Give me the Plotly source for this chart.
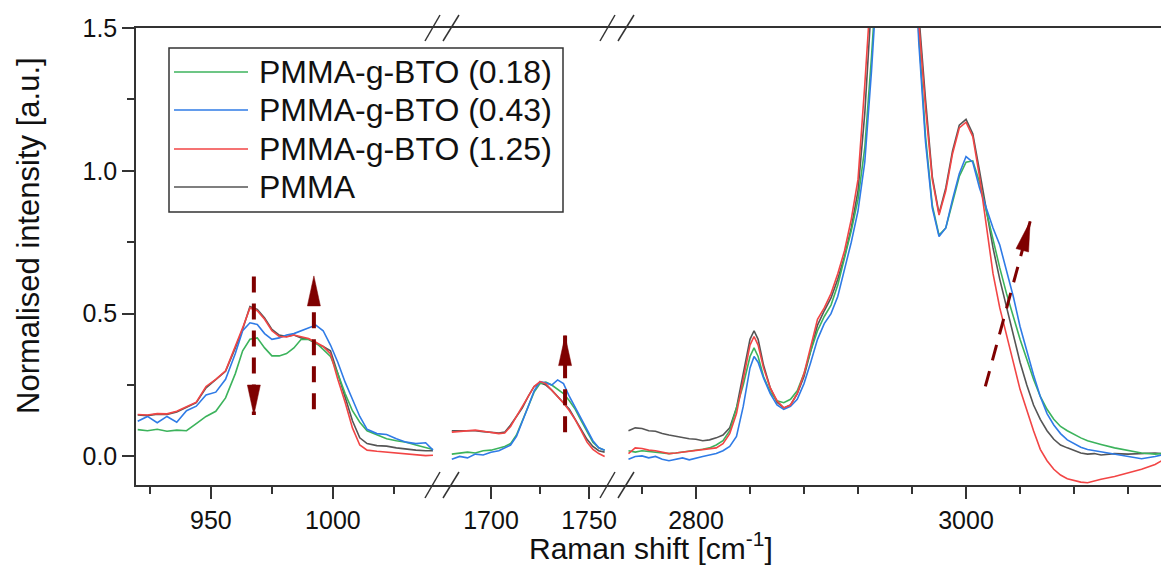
import math
import plotly.graph_objects as go

FONT = "Liberation Sans, Arial, Helvetica, sans-serif"
AXIS_COLOR = "#333333"
ARROW_COLOR = "#7f0000"

# ---------------- data ----------------
series_names = ["PMMA-g-BTO (0.18)", "PMMA-g-BTO (0.43)", "PMMA-g-BTO (1.25)", "PMMA"]
series_colors = ["#3cb35c", "#2f7be6", "#f24545", "#555555"]

# segment 1 : 920 - 1041 cm-1
x_seg1 = [920, 924, 928, 932, 936, 940, 944, 948, 952, 956, 960, 963, 966, 969, 972, 975,
          978, 981, 984, 987, 990, 993, 996, 999, 1002, 1005, 1008, 1011, 1014, 1018, 1022,
          1026, 1030, 1034, 1038, 1041]
green_seg1 = [.094, .09, .095, .088, .092, .09, .115, .14, .158, .205, .29, .37, .41, .415, .38, .352,
              .352, .36, .38, .41, .41, .398, .375, .35, .29, .22, .16, .12, .09, .075, .062,
              .055, .05, .04, .03, .024]
blue_seg1 = [.123, .14, .118, .14, .12, .16, .176, .215, .225, .27, .36, .44, .468, .462, .43, .41,
             .415, .425, .43, .44, .448, .46, .44, .39, .33, .26, .20, .14, .095, .08, .077,
             .062, .05, .045, .048, .022]
red_seg1 = [.147, .145, .15, .149, .158, .175, .19, .245, .27, .30, .385, .45, .52, .51, .48, .44,
            .42, .418, .425, .418, .413, .40, .385, .36, .27, .19, .10, .04, .022, .018, .015,
            .012, .008, .004, .003, .004]
black_seg1 = [.145, .143, .148, .147, .156, .172, .188, .24, .268, .298, .38, .445, .525, .515, .485, .445,
              .425, .42, .425, .415, .41, .395, .385, .37, .29, .21, .125, .065, .045, .038, .036,
              .03, .025, .022, .02, .02]

# segment 2 : 1680 - 1758 cm-1
x_seg2 = [1680, 1684, 1688, 1692, 1696, 1700, 1704, 1707, 1710, 1713, 1716, 1719, 1722, 1725,
          1728, 1731, 1734, 1737, 1740, 1743, 1746, 1749, 1752, 1755, 1758]
green_seg2 = [.008, .012, .015, .012, .02, .022, .028, .035, .045, .075, .125, .175, .225, .255,
              .26, .25, .235, .22, .195, .165, .125, .085, .05, .03, .022]
blue_seg2 = [-.01, .0, -.005, .008, .005, .015, .02, .03, .04, .07, .12, .175, .23, .262,
             .258, .25, .268, .255, .21, .17, .13, .095, .055, .03, .022]
red_seg2 = [.085, .088, .09, .092, .088, .084, .08, .082, .105, .14, .175, .21, .245, .262,
            .255, .232, .21, .187, .16, .128, .09, .05, .025, .01, .0]
black_seg2 = [.09, .09, .092, .09, .087, .085, .082, .085, .11, .14, .17, .21, .245, .258,
              .25, .232, .21, .19, .165, .13, .095, .06, .035, .02, .015]

# segment 3 : 2750 - 3145 cm-1
x_seg3 = [2750, 2755, 2760, 2765, 2770, 2775, 2780, 2785, 2790, 2795, 2800, 2805, 2810, 2815,
          2820, 2825, 2830, 2835, 2840, 2843, 2846, 2850, 2855, 2860, 2865, 2870, 2875, 2880,
          2885, 2890, 2895, 2900, 2905, 2910, 2915, 2920, 2925, 2930, 2935, 2940, 2945, 2950,
          2955, 2960, 2965, 2970, 2975, 2980, 2985, 2990, 2995, 3000, 3005, 3010, 3015, 3020,
          3025, 3030, 3035, 3040, 3045, 3050, 3055, 3060, 3065, 3070, 3075, 3080, 3085, 3090,
          3095, 3100, 3110, 3120, 3130, 3140, 3145]
green_seg3 = [.02, .015, .02, .018, .015, .012, .01, .012, .015, .018, .02, .025, .03, .04,
              .055, .09, .17, .25, .35, .38, .35, .28, .225, .195, .188, .2, .23, .29,
              .37, .44, .49, .53, .6, .69, .79, .9, 1.08, 1.4, 1.85, 2.3, 2.5, 2.55,
              2.42, 1.98, 1.48, 1.12, .88, .775, .80, .89, .98, 1.03, 1.035, .96, .86, .75,
              .66, .57, .49, .41, .34, .27, .21, .165, .13, .105, .09, .077, .065, .055,
              .048, .042, .03, .02, .012, .008, .01]
blue_seg3 = [-.01, .0, .002, -.005, .0, -.01, -.015, -.01, -.005, -.012, -.005, .0, .005, .01,
             .02, .035, .07, .175, .31, .35, .33, .275, .22, .18, .165, .175, .2, .255,
             .33, .41, .465, .5, .56, .65, .75, .86, 1.03, 1.35, 1.8, 2.3, 2.5, 2.55,
             2.4, 1.95, 1.45, 1.1, .87, .77, .80, .90, .99, 1.05, 1.03, .94, .87, .80,
             .74, .65, .56, .455, .37, .285, .21, .15, .11, .08, .058, .045, .032, .024,
             .02, .015, .007, .0, -.008, .0, .005]
red_seg3 = [.01, .03, .028, .022, .02, .015, .01, .012, .015, .018, .02, .022, .025, .03,
            .045, .08, .15, .27, .39, .42, .39, .31, .24, .195, .17, .18, .22, .29,
            .39, .48, .52, .57, .64, .72, .83, .97, 1.3, 1.75, 2.1, 2.4, 2.55, 2.6,
            2.45, 2.0, 1.52, 1.22, .97, .845, .93, 1.06, 1.15, 1.17, 1.12, .98, .81, .64,
            .52, .42, .33, .235, .16, .09, .025, -.015, -.045, -.065, -.078, -.085, -.09, -.092,
            -.085, -.08, -.07, -.058, -.045, -.028, -.015]
black_seg3 = [.09, .1, .098, .09, .088, .08, .075, .07, .065, .062, .06, .055, .058, .065,
              .075, .1, .17, .29, .41, .44, .41, .32, .24, .19, .17, .18, .22, .28,
              .37, .46, .51, .555, .62, .70, .80, .93, 1.2, 1.65, 2.05, 2.38, 2.55, 2.6,
              2.45, 2.02, 1.55, 1.25, .98, .85, .94, 1.07, 1.16, 1.18, 1.13, 1.0, .86, .73,
              .62, .52, .42, .33, .25, .18, .13, .09, .06, .04, .03, .02, .012, .008,
              .01, .005, .01, .008, .01, .012, .01]

# tick values
seg1_major = [950, 1000]
seg1_minor = [925, 975, 1025]
seg2_major = [1700, 1750]
seg2_minor = [1725]
seg3_major = [2800, 3000]
seg3_minor = [2760, 2840, 2880, 2920, 2960, 3040, 3080, 3120]
y_major = [0, 0.5, 1.0, 1.5]
y_major_text = ["0.0", "0.5", "1.0", "1.5"]
y_minor = [0.25, 0.75, 1.25]

# arrows: (axis, tail_x, tail_y, tip_x, tip_y)
arrows = [
    ("x", 967.6, 0.63, 967.6, 0.145),
    ("x", 992.2, 0.165, 992.2, 0.632),
    ("x2", 1737.8, 0.085, 1737.8, 0.423),
    ("x3", 3014.3, 0.245, 3047.5, 0.823),
]

# ---------------- layout geometry ----------------
W, H = 1161, 571
ML, MR, MT, MB = 136, 0, 28, 86
PW = W - ML - MR
PH = H - MT - MB
BREAK1_PX, BREAK2_PX = 442, 617
D1 = (BREAK1_PX - ML) / PW
D2 = (BREAK2_PX - ML) / PW
RANGE1 = [919.3, 1044.7]
RANGE2 = [1675.0, 1764.3]
RANGE3 = [2741.5, 3144.4]
YRANGE = [-0.1, 1.5]


def pxx(px):
    return (px - ML) / PW


def pxy(py):
    return (H - MB - py) / PH


fig = go.Figure()

segments = [
    ("x", x_seg1, [green_seg1, blue_seg1, red_seg1, black_seg1]),
    ("x2", x_seg2, [green_seg2, blue_seg2, red_seg2, black_seg2]),
    ("x3", x_seg3, [green_seg3, blue_seg3, red_seg3, black_seg3]),
]
draw_order = [3, 0, 1, 2]
for axis, xs, ys_list in segments:
    for i in draw_order:
        fig.add_trace(go.Scatter(
            x=xs, y=ys_list[i], xaxis=axis, yaxis="y", mode="lines",
            line=dict(color=series_colors[i], width=1.6),
            name=series_names[i], showlegend=False, hoverinfo="skip"))

tickfont = dict(family=FONT, size=25, color="#111111")
common_x = dict(showline=True, linecolor=AXIS_COLOR, linewidth=1.5, mirror=True,
                ticks="outside", ticklen=12, tickwidth=1.5, tickcolor=AXIS_COLOR,
                showgrid=False, zeroline=False, tickfont=tickfont, anchor="y",
                tickmode="array")

fig.update_layout(
    xaxis=dict(domain=[0, D1], range=RANGE1, tickvals=seg1_major,
               minor=dict(tickvals=seg1_minor, ticks="outside", ticklen=7, tickwidth=1.5,
                          tickcolor=AXIS_COLOR, showgrid=False), **common_x),
    xaxis2=dict(domain=[D1, D2], range=RANGE2, tickvals=seg2_major,
                minor=dict(tickvals=seg2_minor, ticks="outside", ticklen=7, tickwidth=1.5,
                           tickcolor=AXIS_COLOR, showgrid=False), **common_x),
    xaxis3=dict(domain=[D2, 1], range=RANGE3, tickvals=seg3_major,
                minor=dict(tickvals=seg3_minor, ticks="outside", ticklen=7, tickwidth=1.5,
                           tickcolor=AXIS_COLOR, showgrid=False), **common_x),
    yaxis=dict(domain=[0, 1], range=YRANGE, anchor="x", showline=True, linecolor=AXIS_COLOR,
               linewidth=1.5, mirror=False, ticks="outside", ticklen=12, tickwidth=1.5,
               tickcolor=AXIS_COLOR, tickmode="array", tickvals=y_major, ticktext=y_major_text,
               minor=dict(tickvals=y_minor, ticks="outside", ticklen=7, tickwidth=1.5,
                          tickcolor=AXIS_COLOR, showgrid=False),
               showgrid=False, zeroline=False, tickfont=tickfont),
    width=W, height=H, margin=dict(l=ML, r=MR, t=MT, b=MB),
    plot_bgcolor="white", paper_bgcolor="white", showlegend=False,
)

shapes = []
annotations = []

# axis break marks (//) on top and bottom axis lines
for bpx in (BREAK1_PX, BREAK2_PX):
    for yan in (0, 1):
        for (a, b) in ((-17, -2), (1, 17)):
            shapes.append(dict(type="line", xref="paper", yref="paper",
                               xsizemode="pixel", ysizemode="pixel",
                               xanchor=pxx(bpx), yanchor=yan,
                               x0=a, x1=b, y0=-13, y1=13,
                               line=dict(color=AXIS_COLOR, width=1.5), layer="above"))

# arrows
px_per_unit = {
    "x": PW * D1 / (RANGE1[1] - RANGE1[0]),
    "x2": PW * (D2 - D1) / (RANGE2[1] - RANGE2[0]),
    "x3": PW * (1 - D2) / (RANGE3[1] - RANGE3[0]),
}
py_per_unit = PH / (YRANGE[1] - YRANGE[0])
for k, (axis, tx, ty, hx, hy) in enumerate(arrows):
    diag = tx != hx
    shapes.append(dict(type="line", xref=axis, yref="y", x0=tx, y0=ty, x1=hx, y1=hy,
                       line=dict(color=ARROW_COLOR, width=3 if diag else 4,
                                 dash="16px,11px"), layer="above"))
    dx = (hx - tx) * px_per_unit[axis]
    dy = (hy - ty) * py_per_unit
    n = math.hypot(dx, dy)
    bx, by = -dx / n, -dy / n
    qx, qy = -by, bx
    L, hw = 30, 6.5
    c1 = (L * bx + hw * qx, L * by + hw * qy)
    c2 = (L * bx - hw * qx, L * by - hw * qy)
    path = "M0,0 L{:.2f},{:.2f} L{:.2f},{:.2f} Z".format(c1[0], c1[1], c2[0], c2[1])
    shapes.append(dict(type="path", xref=axis, yref="y", xsizemode="pixel", ysizemode="pixel",
                       xanchor=hx, yanchor=hy, path=path, fillcolor=ARROW_COLOR,
                       line=dict(color=ARROW_COLOR, width=0.5), layer="above"))

# legend box (manual)
LEG_L, LEG_R, LEG_T, LEG_B = 169, 563, 48, 212
shapes.append(dict(type="rect", xref="paper", yref="paper",
                   x0=pxx(LEG_L), x1=pxx(LEG_R), y0=pxy(LEG_B), y1=pxy(LEG_T),
                   line=dict(color=AXIS_COLOR, width=1.5), fillcolor="white", layer="above"))
row_py = [72, 110, 149, 187]
for i in range(4):
    shapes.append(dict(type="line", xref="paper", yref="paper",
                       x0=pxx(174), x1=pxx(248), y0=pxy(row_py[i]), y1=pxy(row_py[i]),
                       line=dict(color=series_colors[i], width=1.6), layer="above"))
    annotations.append(dict(text=series_names[i], xref="paper", yref="paper",
                            x=pxx(257), y=pxy(row_py[i]), xanchor="left", yanchor="middle",
                            showarrow=False, font=dict(family=FONT, size=32, color="#111111")))

# axis titles
annotations.append(dict(text="Raman shift [cm<sup>-1</sup>]", xref="paper", yref="paper",
                        x=pxx(651), y=pxy(546), xanchor="center", yanchor="middle",
                        showarrow=False, font=dict(family=FONT, size=30, color="#111111")))
annotations.append(dict(text="Normalised intensity [a.u.]", xref="paper", yref="paper",
                        x=pxx(28), y=pxy(236), xanchor="center", yanchor="middle",
                        textangle=-90, showarrow=False,
                        font=dict(family=FONT, size=31, color="#111111")))

fig.update_layout(shapes=shapes, annotations=annotations)
fig.write_html("out.html")
